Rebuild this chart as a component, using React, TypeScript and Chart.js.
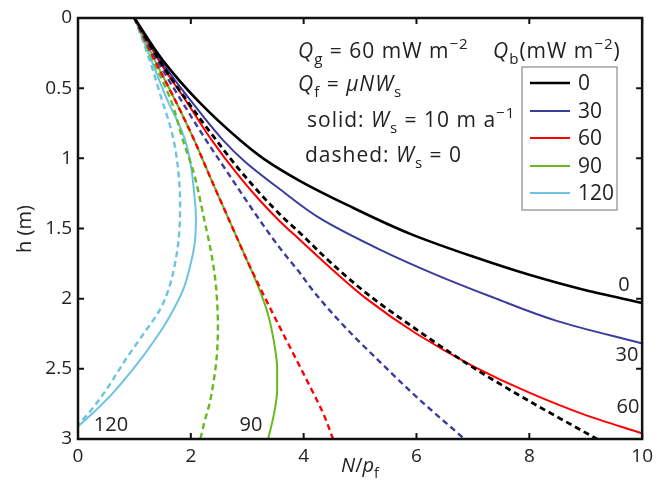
import React, { useEffect, useRef } from "react";
import { Chart, registerables } from "chart.js";
Chart.register(...registerables);

// Qb values (mW m^-2)
const qbLabels = ["0", "30", "60", "90", "120"];
const qbColors = ["#000000", "#3c3c9c", "#ff0000", "#66b91e", "#6cc4e0"];

// solid: Ws = 10 m/a  (x = N/pf, h = depth m)
const solid0X = [1, 1.5, 2.15, 2.87, 3.28, 3.93, 4.76, 5.9, 7.0, 8.0, 9.0, 10];
const solid0H = [0, 0.3, 0.6, 0.87, 1.0, 1.16, 1.33, 1.54, 1.7, 1.83, 1.94, 2.03];
const solid30X = [1, 1.46, 2.02, 2.57, 2.95, 3.58, 4.3, 5.35, 6.35, 7.35, 8.5, 10];
const solid30H = [0, 0.3, 0.6, 0.87, 1.02, 1.22, 1.43, 1.65, 1.83, 1.99, 2.16, 2.32];
const solid60X = [1, 1.43, 1.93, 2.37, 2.84, 3.2, 3.58, 3.93, 4.5, 5.11, 6.0, 7.0, 8.0, 9.0, 10];
const solid60H = [0, 0.3, 0.6, 0.87, 1.12, 1.29, 1.45, 1.58, 1.79, 2.0, 2.25, 2.48, 2.67, 2.83, 2.96];
const solid90X = [1, 1.36, 1.74, 2.06, 2.36, 2.69, 3.0, 3.2, 3.36, 3.47, 3.53, 3.53, 3.47, 3.37];
const solid90H = [0, 0.3, 0.6, 0.87, 1.15, 1.45, 1.73, 1.92, 2.1, 2.3, 2.5, 2.65, 2.83, 3.0];
const solid120X = [1, 1.3, 1.6, 1.78, 1.9, 2.0, 2.06, 2.09, 2.07, 1.98, 1.86, 1.62, 1.35, 1.0, 0.6, 0.25, 0];
const solid120H = [0, 0.3, 0.6, 0.75, 0.87, 1.05, 1.25, 1.42, 1.6, 1.78, 1.94, 2.13, 2.3, 2.49, 2.68, 2.82, 2.91];

// dashed: Ws = 0
const dashed0X = [1, 1.44, 1.95, 2.45, 2.9, 3.58, 3.93, 4.5, 5.14, 6.0, 7.0, 8.0, 9.2];
const dashed0H = [0, 0.3, 0.6, 0.87, 1.1, 1.4, 1.53, 1.75, 1.97, 2.22, 2.49, 2.73, 3.0];
const dashed30X = [1, 1.4, 1.85, 2.27, 2.65, 3.22, 3.58, 3.9, 4.2, 4.75, 5.35, 6.0, 6.85];
const dashed30H = [0, 0.3, 0.6, 0.87, 1.1, 1.44, 1.64, 1.8, 1.96, 2.21, 2.45, 2.7, 3.0];
const dashed60X = [1, 1.36, 1.74, 2.06, 2.36, 2.69, 3.0, 3.36, 3.7, 4.08, 4.36, 4.52];
const dashed60H = [0, 0.3, 0.6, 0.87, 1.15, 1.45, 1.73, 2.03, 2.3, 2.6, 2.83, 3.0];
const dashed90X = [1, 1.33, 1.66, 1.86, 2.05, 2.24, 2.35, 2.43, 2.47, 2.48, 2.46, 2.4, 2.33, 2.24, 2.17];
const dashed90H = [0, 0.3, 0.6, 0.87, 1.1, 1.44, 1.65, 1.85, 2.05, 2.2, 2.41, 2.6, 2.75, 2.88, 3.0];
const dashed120X = [1, 1.27, 1.5, 1.62, 1.71, 1.78, 1.81, 1.79, 1.72, 1.6, 1.45, 1.18, 0.85, 0.5, 0.22, 0];
const dashed120H = [0, 0.3, 0.6, 0.75, 0.9, 1.1, 1.32, 1.55, 1.75, 1.94, 2.08, 2.24, 2.43, 2.65, 2.8, 2.9];

const xTicks = [0, 2, 4, 6, 8, 10];
const yTicks = [0, 0.5, 1, 1.5, 2, 2.5, 3];

const FONT = '"Open Sans", "DejaVu Sans", sans-serif';
const TXT = "#222";

type Part = { t: string; s?: string };

function setFont(ctx: CanvasRenderingContext2D, p: Part, size: number) {
  const s = p.s || "";
  const small = s.includes("b") || s.includes("p");
  ctx.font = `${s.includes("i") ? "italic " : ""}${small ? size * 0.72 : size}px ${FONT}`;
}

function measureRich(ctx: CanvasRenderingContext2D, parts: Part[], size: number) {
  let w = 0;
  for (const p of parts) {
    setFont(ctx, p, size);
    w += ctx.measureText(p.t).width;
  }
  return w;
}

function drawRich(ctx: CanvasRenderingContext2D, x: number, y: number, parts: Part[], size: number) {
  let cx = x;
  ctx.textAlign = "left";
  ctx.textBaseline = "alphabetic";
  for (const p of parts) {
    const s = p.s || "";
    const sub = s.includes("b");
    const sup = s.includes("p");
    setFont(ctx, p, size);
    const dy = sub ? size * 0.28 : sup ? -size * 0.42 : 0;
    ctx.fillText(p.t, cx, y + dy);
    cx += ctx.measureText(p.t).width;
  }
}

function pts(xs: number[], hs: number[]) {
  return xs.map((x, i) => ({ x, y: hs[i] }));
}

export default function App() {
  const ref = useRef<HTMLCanvasElement | null>(null);

  useEffect(() => {
    document.body.style.margin = "0";
    const canvas = ref.current;
    if (!canvas) return;

    const solids = [
      [solid0X, solid0H],
      [solid30X, solid30H],
      [solid60X, solid60H],
      [solid90X, solid90H],
      [solid120X, solid120H],
    ];
    const dashes = [
      [dashed0X, dashed0H],
      [dashed30X, dashed30H],
      [dashed60X, dashed60H],
      [dashed90X, dashed90H],
      [dashed120X, dashed120H],
    ];

    const datasets: any[] = [];
    solids.forEach(([xs, hs], i) => {
      datasets.push({
        label: qbLabels[i],
        data: pts(xs, hs),
        borderColor: qbColors[i],
        borderWidth: i === 0 ? 2.6 : 2,
        showLine: true,
        pointRadius: 0,
        cubicInterpolationMode: "monotone",
        order: 2,
      });
    });
    dashes.forEach(([xs, hs], i) => {
      datasets.push({
        label: qbLabels[i] + " (Ws=0)",
        data: pts(xs, hs),
        borderColor: qbColors[i],
        borderWidth: i === 0 ? 2.8 : 2.4,
        borderDash: [6, 4],
        showLine: true,
        pointRadius: 0,
        cubicInterpolationMode: "monotone",
        order: 1,
      });
    });

    const decor = {
      id: "decor",
      afterDraw(chart: any) {
        const ctx: CanvasRenderingContext2D = chart.ctx;
        const { left, right, top, bottom } = chart.chartArea;
        const xs = chart.scales.x;
        const ys = chart.scales.y;
        ctx.save();
        // box
        ctx.strokeStyle = "#111";
        ctx.lineWidth = 2.5;
        ctx.strokeRect(left, top, right - left, bottom - top);
        // inward ticks
        ctx.lineWidth = 2;
        const tl = 6;
        ctx.beginPath();
        xTicks.forEach((v) => {
          const px = xs.getPixelForValue(v);
          ctx.moveTo(px, bottom);
          ctx.lineTo(px, bottom - tl);
          ctx.moveTo(px, top);
          ctx.lineTo(px, top + tl);
        });
        yTicks.forEach((v) => {
          const py = ys.getPixelForValue(v);
          ctx.moveTo(left, py);
          ctx.lineTo(left + tl, py);
          ctx.moveTo(right, py);
          ctx.lineTo(right - tl, py);
        });
        ctx.stroke();

        ctx.fillStyle = TXT;
        (ctx as any).letterSpacing = "0px";
        // axis titles
        const xt: Part[] = [{ t: "N", s: "i" }, { t: "/" }, { t: "p", s: "i" }, { t: "f", s: "b" }];
        const xw = measureRich(ctx, xt, 20);
        drawRich(ctx, 360 - xw / 2, 472, xt, 20);
        ctx.save();
        ctx.translate(31, 229);
        ctx.rotate(-Math.PI / 2);
        ctx.font = `20px ${FONT}`;
        ctx.textAlign = "center";
        ctx.textBaseline = "alphabetic";
        ctx.fillText("h (m)", 0, 0);
        ctx.restore();

        // annotations
        const size = 21;
        (ctx as any).letterSpacing = "1px";
        drawRich(ctx, 298, 58, [
          { t: "Q", s: "i" }, { t: "g", s: "b" }, { t: " = 60 mW m" }, { t: "−2", s: "p" },
        ], size);
        drawRich(ctx, 298, 91, [
          { t: "Q", s: "i" }, { t: "f", s: "b" }, { t: " = " }, { t: "μNW", s: "i" }, { t: "s", s: "b" },
        ], size);
        drawRich(ctx, 307, 127, [
          { t: "solid: " }, { t: "W", s: "i" }, { t: "s", s: "b" }, { t: " = 10 m a" }, { t: "−1", s: "p" },
        ], size);
        drawRich(ctx, 305, 162, [
          { t: "dashed: " }, { t: "W", s: "i" }, { t: "s", s: "b" }, { t: " = 0" },
        ], size);
        drawRich(ctx, 493, 58, [
          { t: "Q", s: "i" }, { t: "b", s: "b" }, { t: "(mW m" }, { t: "−2", s: "p" }, { t: ")" },
        ], size);
        (ctx as any).letterSpacing = "0px";

        // legend box
        const lx0 = 522, ly0 = 67, lx1 = 617, ly1 = 210;
        ctx.fillStyle = "#fff";
        ctx.fillRect(lx0, ly0, lx1 - lx0, ly1 - ly0);
        ctx.strokeStyle = "#8a8a8a";
        ctx.lineWidth = 1.2;
        ctx.strokeRect(lx0, ly0, lx1 - lx0, ly1 - ly0);
        const rows = [83, 111, 138, 166, 193];
        qbLabels.forEach((lab, i) => {
          ctx.strokeStyle = qbColors[i];
          ctx.lineWidth = i === 0 ? 2.6 : 2;
          ctx.beginPath();
          ctx.moveTo(530, rows[i]);
          ctx.lineTo(570, rows[i]);
          ctx.stroke();
          ctx.fillStyle = TXT;
          ctx.font = `21px ${FONT}`;
          ctx.textAlign = "left";
          ctx.textBaseline = "middle";
          ctx.fillText(lab, 578, rows[i] + 1);
        });

        // curve labels
        ctx.fillStyle = TXT;
        ctx.font = `20px ${FONT}`;
        ctx.textAlign = "center";
        ctx.textBaseline = "middle";
        const cl: [string, number, number][] = [
          ["0", 624, 285],
          ["30", 627, 355],
          ["60", 628, 407],
          ["90", 251, 425],
          ["120", 111, 425],
        ];
        cl.forEach(([t, x, y]) => ctx.fillText(t, x, y));
        ctx.restore();
      },
    };

    const chart = new Chart(canvas, {
      type: "scatter",
      data: { datasets },
      options: {
        animation: false,
        responsive: false,
        maintainAspectRatio: false,
        indexAxis: "y",
        layout: { padding: { top: 18, right: 16, left: 0, bottom: 0 } },
        plugins: { legend: { display: false }, tooltip: { enabled: false } },
        scales: {
          x: {
            type: "linear",
            min: 0,
            max: 10,
            afterFit: (s: any) => { s.height = 47; },
            afterBuildTicks: (s: any) => { s.ticks = xTicks.map((v) => ({ value: v })); },
            grid: { display: false, drawTicks: false },
            border: { display: false },
            ticks: { color: TXT, font: { family: FONT, size: 19 }, padding: 6, callback: (v: any) => String(v) },
          },
          y: {
            type: "linear",
            reverse: true,
            min: 0,
            max: 3,
            afterFit: (s: any) => { s.width = 78; },
            afterBuildTicks: (s: any) => { s.ticks = yTicks.map((v) => ({ value: v })); },
            grid: { display: false, drawTicks: false },
            border: { display: false },
            ticks: { color: TXT, font: { family: FONT, size: 19 }, padding: 6, callback: (v: any) => String(v) },
          },
        },
      } as any,
      plugins: [decor],
    });
    return () => chart.destroy();
  }, []);

  return (
    <div style={{ width: 659, height: 486, background: "#fff" }}>
      <canvas ref={ref} width={659} height={486} style={{ display: "block" }} />
    </div>
  );
}
